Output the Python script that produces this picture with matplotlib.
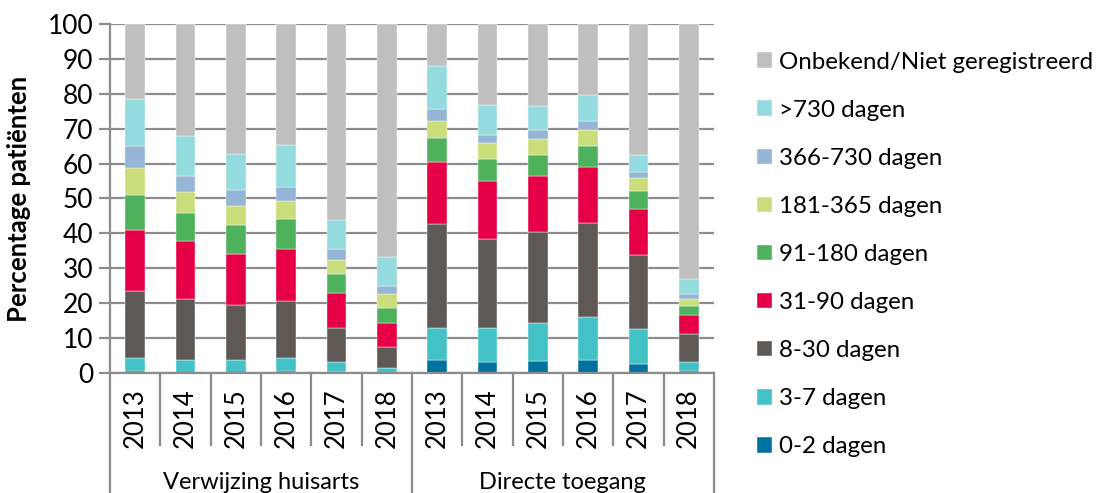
import numpy as np
import matplotlib
matplotlib.use("Agg")
import matplotlib.pyplot as plt
import matplotlib.transforms as mtransforms

plt.rcParams['font.family'] = ['Lato', 'DejaVu Sans']

years = ['2013', '2014', '2015', '2016', '2017', '2018']
groups = ['Verwijzing huisarts', 'Directe toegang']

series = ['0-2 dagen', '3-7 dagen', '8-30 dagen', '31-90 dagen', '91-180 dagen',
          '181-365 dagen', '366-730 dagen', '>730 dagen', 'Onbekend/Niet geregistreerd']
colors = ['#0072A0', '#42C1C7', '#5E5955', '#E60045', '#4DB25B',
          '#C9DE7A', '#95B5D6', '#93DBDF', '#BFBFBF']

# cumulative tops per bar (%)
cum_huisarts = [
    [0.5, 4.2, 23.5, 41.1, 51.1, 58.8, 65.1, 78.4, 100],
    [0.1, 3.8, 21.1, 37.7, 45.8, 51.8, 56.5, 67.9, 100],
    [0.1, 3.8, 19.4, 34.1, 42.4, 47.8, 52.5, 62.7, 100],
    [0.6, 4.4, 20.7, 35.6, 44.0, 49.2, 53.3, 65.4, 100],
    [0.4, 3.1, 12.9, 22.8, 28.5, 32.5, 35.5, 43.8, 100],
    [0.1, 1.5, 7.4, 14.3, 18.6, 22.6, 24.9, 33.1, 100],
]
cum_direct = [
    [3.7, 13.0, 42.8, 60.5, 67.4, 72.1, 75.7, 87.9, 100],
    [3.1, 12.8, 38.5, 55.0, 61.4, 65.8, 68.2, 76.7, 100],
    [3.3, 14.4, 40.5, 56.5, 62.5, 67.0, 69.6, 76.4, 100],
    [3.7, 16.0, 43.1, 58.9, 65.1, 69.7, 72.3, 79.6, 100],
    [2.6, 12.6, 33.7, 47.0, 52.2, 55.9, 57.6, 62.4, 100],
    [0.7, 3.1, 11.2, 16.7, 19.1, 21.3, 22.6, 26.8, 100],
]

cum = np.array(cum_huisarts + cum_direct)
vals = np.diff(np.hstack([np.zeros((cum.shape[0], 1)), cum]), axis=1)
x = np.arange(cum.shape[0])

fig = plt.figure(figsize=(11, 4.93), dpi=100)
ax = fig.add_axes([0.1, 0.2434, 0.549, 0.708])

bottom = np.zeros(len(x))
bars = []
for i, name in enumerate(series):
    b = ax.bar(x, vals[:, i], bottom=bottom, width=0.39, color=colors[i],
               edgecolor='white', linewidth=0.3, label=name, zorder=3)
    bars.append(b)
    bottom += vals[:, i]

gcol = '#8C8C8C'
ax.set_xlim(-0.5, len(x) - 0.5)
ax.set_ylim(0, 100)
ax.set_yticks(np.arange(0, 101, 10))
ax.yaxis.grid(True, color=gcol, linewidth=1.6, zorder=0)
ax.set_axisbelow(True)
for s in ['top', 'right', 'bottom']:
    ax.spines[s].set_visible(False)
ax.spines['left'].set_color(gcol)
ax.spines['left'].set_linewidth(1.6)
ax.tick_params(axis='y', length=8, width=1.6, color=gcol, labelsize=19, pad=4)
ax.set_xticks([])
ax.set_ylabel('Percentage patiënten', fontsize=18.5, fontweight='bold')
ax.yaxis.set_label_coords(-0.130, 0.5)

# multi-level category axis
trans = mtransforms.blended_transform_factory(ax.transData, ax.transAxes)
ax.plot([-0.5, len(x) - 0.5], [0, 0], color=gcol, lw=1.6, transform=trans, clip_on=False, zorder=5)
for k in range(len(x) + 1):
    xs = k - 0.5
    depth = -0.345 if k % 6 == 0 else -0.206
    ax.plot([xs, xs], [0, depth], color=gcol, lw=1.6, transform=trans, clip_on=False)
for k in range(len(x)):
    ax.text(x[k], -0.045, years[k % 6], rotation=90, ha='center', va='top',
            fontsize=18.5, transform=trans)
for g, name in enumerate(groups):
    ax.text(g * 6 + 2.5, -0.315, name, ha='center', va='center', fontsize=17, transform=trans)

handles = [b.patches[0] for b in bars][::-1]
fig.legend(handles, series[::-1], loc='upper left', bbox_to_anchor=(0.688, 0.895),
           frameon=False, fontsize=17.4, handlelength=0.62, handleheight=0.62,
           handletextpad=0.3, labelspacing=1.12, borderpad=0, borderaxespad=0)

fig.savefig('out.png', dpi=100)
